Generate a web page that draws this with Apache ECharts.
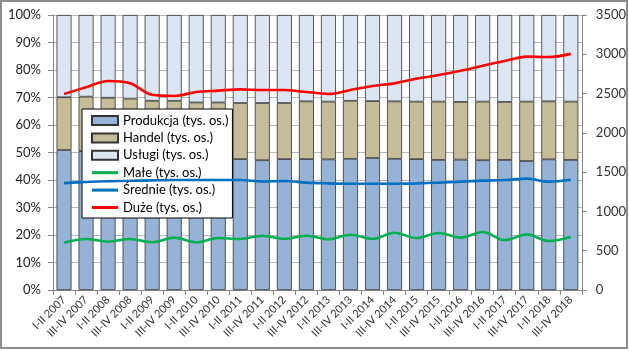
<!DOCTYPE html>
<html>
<head>
<meta charset="utf-8">
<script src="https://cdn.jsdelivr.net/npm/echarts@6/dist/echarts.min.js"></script>
<style>
  html, body { margin: 0; padding: 0; background: #fff; }
  #chart { width: 629px; height: 351px; }
</style>
</head>
<body>
<div id="chart"></div>
<script>
// okresy (półrocza)
var periods = ['I-II 2007', 'III-IV 2007', 'I-II 2008', 'III-IV 2008', 'I-II 2009', 'III-IV 2009',
  'I-II 2010', 'III-IV 2010', 'I-II 2011', 'III-IV 2011', 'I-II 2012', 'III-IV 2012',
  'I-II 2013', 'III-IV 2013', 'I-II 2014', 'III-IV 2014', 'I-II 2015', 'III-IV 2015',
  'I-II 2016', 'III-IV 2016', 'I-II 2017', 'III-IV 2017', 'I-II 2018', 'III-IV 2018'];

// udziały sektorów (%), słupki 100%
var produkcja = [50.9, 50.5, 50.0, 49.5, 49.0, 48.6, 48.2, 48.0, 47.6, 47.2, 47.6, 47.6,
  47.5, 47.7, 48.0, 47.7, 47.6, 47.3, 47.4, 47.2, 47.3, 46.9, 47.5, 47.3];
var handel = [19.2, 19.8, 19.9, 20.1, 19.8, 20.2, 20.0, 20.2, 20.4, 20.8, 20.4, 21.0,
  21.0, 21.1, 20.7, 20.9, 20.9, 21.2, 21.0, 21.3, 21.1, 21.6, 21.1, 21.2];
var uslugi = [29.9, 29.7, 30.1, 30.4, 31.2, 31.2, 31.8, 31.8, 32.0, 32.0, 32.0, 31.4,
  31.5, 31.2, 31.3, 31.4, 31.5, 31.5, 31.6, 31.5, 31.6, 31.5, 31.4, 31.5];

// wielkość firm (tys. os.), prawa oś
var male = [602, 649, 615, 650, 607, 666, 607, 662, 649, 691, 649, 691,
  645, 704, 649, 729, 662, 725, 666, 738, 636, 708, 623, 679];
var srednie = [1360, 1375, 1385, 1390, 1395, 1400, 1400, 1400, 1400, 1380, 1387, 1366,
  1357, 1353, 1353, 1353, 1357, 1366, 1379, 1392, 1400, 1417, 1379, 1404];
var duze = [2495, 2580, 2660, 2630, 2485, 2470, 2520, 2537, 2554, 2545, 2545, 2520,
  2495, 2545, 2596, 2630, 2690, 2736, 2790, 2855, 2915, 2970, 2965, 3005];

var FONT = 'Lato';
var LINE_ICON = 'path://M0,0 L26,0 L26,3 L0,3 Z';
var myChart = echarts.init(document.getElementById('chart'));

function barSeries(name, data, color) {
  return {
    name: name,
    type: 'bar',
    stack: 'sektor',
    data: data,
    barCategoryGap: '32%',
    itemStyle: { color: color, borderColor: '#333', borderWidth: 0.8 }
  };
}
function lineSeries(name, data, color) {
  return {
    name: name,
    type: 'line',
    yAxisIndex: 1,
    data: data,
    smooth: 0.35,
    symbol: 'none',
    lineStyle: { color: color, width: 2.6 },
    itemStyle: { color: color },
    z: 5
  };
}

var option = {
  animation: false,
  textStyle: { fontFamily: FONT },
  graphic: [{
    type: 'rect',
    shape: { x: 1, y: 1, width: 626, height: 347 },
    style: { fill: 'none', stroke: '#8c8c8c', lineWidth: 2 },
    silent: true
  }],
  grid: { left: 53, right: 46, top: 15, bottom: 61 },
  legend: {
    orient: 'vertical',
    left: 82,
    top: 109,
    padding: [5, 4, 4, 9],
    itemWidth: 26,
    itemHeight: 9,
    itemGap: 4.4,
    backgroundColor: '#fff',
    borderColor: '#000',
    borderWidth: 1,
    textStyle: { fontFamily: FONT, fontSize: 13, color: '#000' },
    data: [
      { name: 'Produkcja (tys. os.)', icon: 'rect' },
      { name: 'Handel (tys. os.)', icon: 'rect' },
      { name: 'Usługi (tys. os.)', icon: 'rect' },
      { name: 'Małe (tys. os.)', icon: LINE_ICON },
      { name: 'Średnie (tys. os.)', icon: LINE_ICON },
      { name: 'Duże (tys. os.)', icon: LINE_ICON }
    ]
  },
  xAxis: {
    type: 'category',
    data: periods,
    boundaryGap: true,
    axisLine: { lineStyle: { color: '#868686' } },
    axisTick: { show: true, length: 5, lineStyle: { color: '#868686' } },
    axisLabel: { rotate: 45, fontSize: 11, color: '#333', margin: 8, interval: 0 }
  },
  yAxis: [{
    type: 'value',
    min: 0,
    max: 100,
    interval: 10,
    axisLine: { show: true, lineStyle: { color: '#868686' } },
    axisTick: { show: true, length: 5, lineStyle: { color: '#868686' } },
    axisLabel: { formatter: '{value}%', fontSize: 13, color: '#222', margin: 12 },
    splitLine: { lineStyle: { color: '#b8b8b8' } }
  }, {
    type: 'value',
    min: 0,
    max: 3500,
    interval: 500,
    axisLine: { show: true, lineStyle: { color: '#868686' } },
    axisTick: { show: true, length: 5, lineStyle: { color: '#868686' } },
    axisLabel: { formatter: function (v) { return String(v); }, fontSize: 13, color: '#333', margin: 14 },
    splitLine: { show: false }
  }],
  series: [
    barSeries('Produkcja (tys. os.)', produkcja, '#95b3d7'),
    barSeries('Handel (tys. os.)', handel, '#c4bd97'),
    barSeries('Usługi (tys. os.)', uslugi, '#dce6f2'),
    lineSeries('Małe (tys. os.)', male, '#00b050'),
    lineSeries('Średnie (tys. os.)', srednie, '#0070c0'),
    lineSeries('Duże (tys. os.)', duze, '#ff0000')
  ]
};
myChart.setOption(option);
</script>
</body>
</html>
